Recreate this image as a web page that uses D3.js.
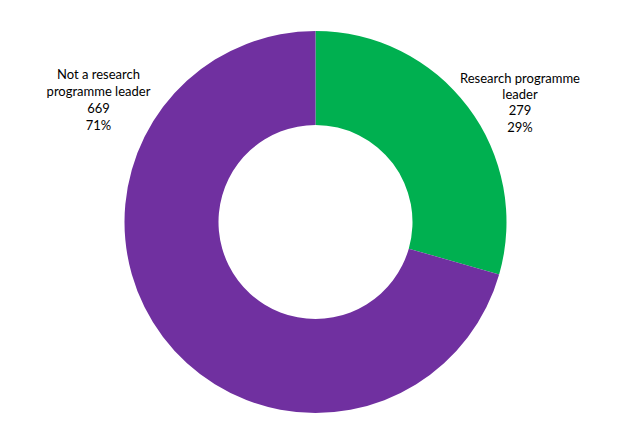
<!DOCTYPE html>
<html><head><meta charset="utf-8">
<script src="https://cdn.jsdelivr.net/npm/d3@7"></script>
<style>body{margin:0;background:#fff;}svg{display:block;}</style>
</head><body>
<svg id="c" width="637" height="439"></svg>
<script>
const categories = ["Research programme leader", "Not a research programme leader"];
const values = [279, 669];
const percents = ["29%", "71%"];
const colors = ["#00B050", "#7030A0"];
const labelLines = [["Research programme", "leader"], ["Not a research", "programme leader"]];

const svg = d3.select("#c");
const cx = 315.5, cy = 222, rOuter = 191, rInner = 97;
const g = svg.append("g").attr("transform", `translate(${cx},${cy})`);
const pie = d3.pie().sort(null).value(d => d)(values);
const arc = d3.arc().innerRadius(rInner).outerRadius(rOuter);
g.selectAll("path").data(pie).join("path")
  .attr("d", arc).attr("fill", (d, i) => colors[i]);

const labelPos = [[520, 82.5, 16.4], [98.5, 78.7, 17]];
pie.forEach((d, i) => {
  const lines = [...labelLines[i], String(values[i]), percents[i]];
  const t = svg.append("text")
    .attr("text-anchor", "middle")
    .attr("font-family", "Lato, 'Open Sans', sans-serif")
    .attr("font-size", 13)
    .attr("fill", "#000");
  lines.forEach((l, j) => {
    t.append("tspan").attr("x", labelPos[i][0]).attr("y", labelPos[i][1] + j * labelPos[i][2]).text(l);
  });
});
</script>
</body></html>
